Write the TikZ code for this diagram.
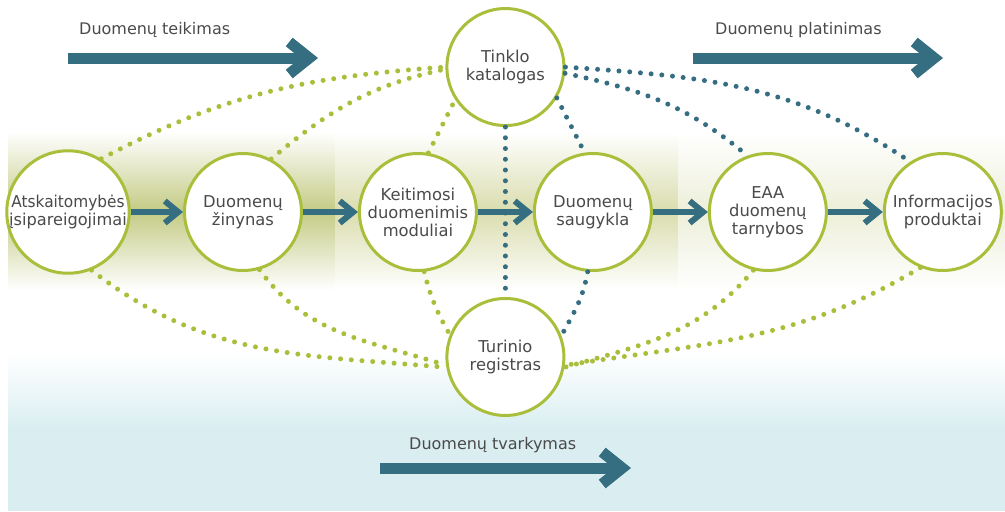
\documentclass[tikz,border=0pt]{standalone}
\usepackage{fontspec}
\setmainfont{DejaVu Sans}
\usepackage{xcolor}
\usetikzlibrary{arrows.meta,positioning}
\definecolor{tealblue}{HTML}{346E80}
\definecolor{lgreen}{HTML}{A9BF3B}
\definecolor{txt}{HTML}{4A4A4A}
\definecolor{bandA}{HTML}{C4CB84}
\definecolor{bandB}{HTML}{DADDAE}
\definecolor{bandC}{HTML}{EDEFD9}
\definecolor{lblue}{HTML}{DAEEF1}

\begin{document}
\begin{tikzpicture}[x=0.02cm,y=-0.02cm,node distance=3.5cm,on grid,
    krug/.style={circle,draw=lgreen,line width=0.06cm,fill=white,minimum size=2.34cm,inner sep=0pt,
      align=center,text=txt,font=\fontsize{9.3}{10.3}\selectfont},
    lbl/.style={anchor=west,text=txt,font=\fontsize{9.1}{10}\selectfont},
    flow/.style={-{Straight Barb[length=0.27cm,width=0.44cm]},line width=0.12cm,draw=tealblue},
    big/.style={-{Straight Barb[length=0.4cm,width=0.64cm]},line width=0.22cm,draw=tealblue},
    gdots/.style={draw=lgreen,line width=0.1cm,line cap=round,dash pattern=on 0pt off 0.215cm},
    tdots/.style={gdots,draw=tealblue}]
  \useasboundingbox (0,0) rectangle (1005,511);
  % background bands
  \shade[top color=white,bottom color=white,middle color=bandA] (8,132) rectangle (335,290);
  \shade[top color=white,bottom color=white,middle color=bandB] (335,132) rectangle (678,290);
  \shade[top color=white,bottom color=white,middle color=bandC] (678,132) rectangle (1005,290);
  \shade[top color=white,bottom color=lblue] (8,353) rectangle (1005,428);
  \fill[lblue] (8,428) rectangle (1005,511);

  \node[krug] (Ats) at (68,212) {\scalebox{0.94}[1]{Atskaitomybės}\\\scalebox{0.99}[1]{įsipareigojimai}};
  \node[krug] (Zin) [right=of Ats] {Duomenų\\žinynas};
  \node[krug] (Keit) [right=of Zin] {Keitimosi\\duomenimis\\moduliai};
  \node[krug] (Saug) [right=of Keit] {Duomenų\\saugykla};
  \node[krug] (EAA) [right=of Saug] {EAA\\duomenų\\tarnybos};
  \node[krug] (Inf) [right=of EAA] {Informacijos\\produktai};
  \node[krug] (Kat) [above right=2.9cm and 1.75cm of Keit] {Tinklo\\katalogas};
  \node[krug] (Reg) [below right=2.9cm and 1.75cm of Keit] {Turinio\\registras};

  % top and bottom flows
  \node[lbl] (teik) at (73,30) {Duomenų teikimas};
  \node[lbl] (plat) at (709,30) {Duomenų platinimas};
  \node[lbl] (tvark) at (403,445) {Duomenų tvarkymas};
  \coordinate (teikA) at (68,58);   \coordinate (teikB) at (318,58);
  \coordinate (platA) at (693,58);  \coordinate (platB) at (943,58);
  \coordinate (tvarkA) at (380,468); \coordinate (tvarkB) at (631,468);
  \draw[big] (teikA) -- (teikB);
  \draw[big] (platA) -- (platB);
  \draw[big] (tvarkA) -- (tvarkB);

  \path (Ats) edge [flow] (Zin)
        (Zin) edge [flow] (Keit)
        (Keit) edge [flow] (Saug)
        (Saug) edge [flow] (EAA)
        (EAA) edge [flow] (Inf);

  % links to the catalogue
  \draw[gdots] (Ats.58) to[out=28,in=184] (Kat.180);
  \draw[gdots] (Zin.62) to[out=40,in=192] (Kat.182);
  \draw[gdots] (Keit.80) -- (Kat.213);
  \draw[tdots] (Kat.270) -- (Reg.90);
  \draw[tdots] (Kat.-31) -- (Saug.98);
  \draw[tdots] (Kat.-6) to[out=-12,in=140] (EAA.110);
  \draw[tdots] (Kat.0) to[out=-4,in=146] (Inf.123);
  % links to the register
  \draw[gdots] (Ats.-68) to[out=-38,in=175] (Reg.190);
  \draw[gdots] (Zin.-74) to[out=-54,in=162] (Reg.188);
  \draw[gdots] (Keit.-84) to[out=-76,in=120] (Reg.158);
  \draw[tdots] (Saug.-95) to[out=-100,in=61] (Reg.21);
  \draw[gdots] (EAA.-104) to[out=-130,in=16] (Reg.-10);
  \draw[gdots] (Inf.-112) to[out=-149,in=9] (Reg.-8);
\end{tikzpicture}
\end{document}
